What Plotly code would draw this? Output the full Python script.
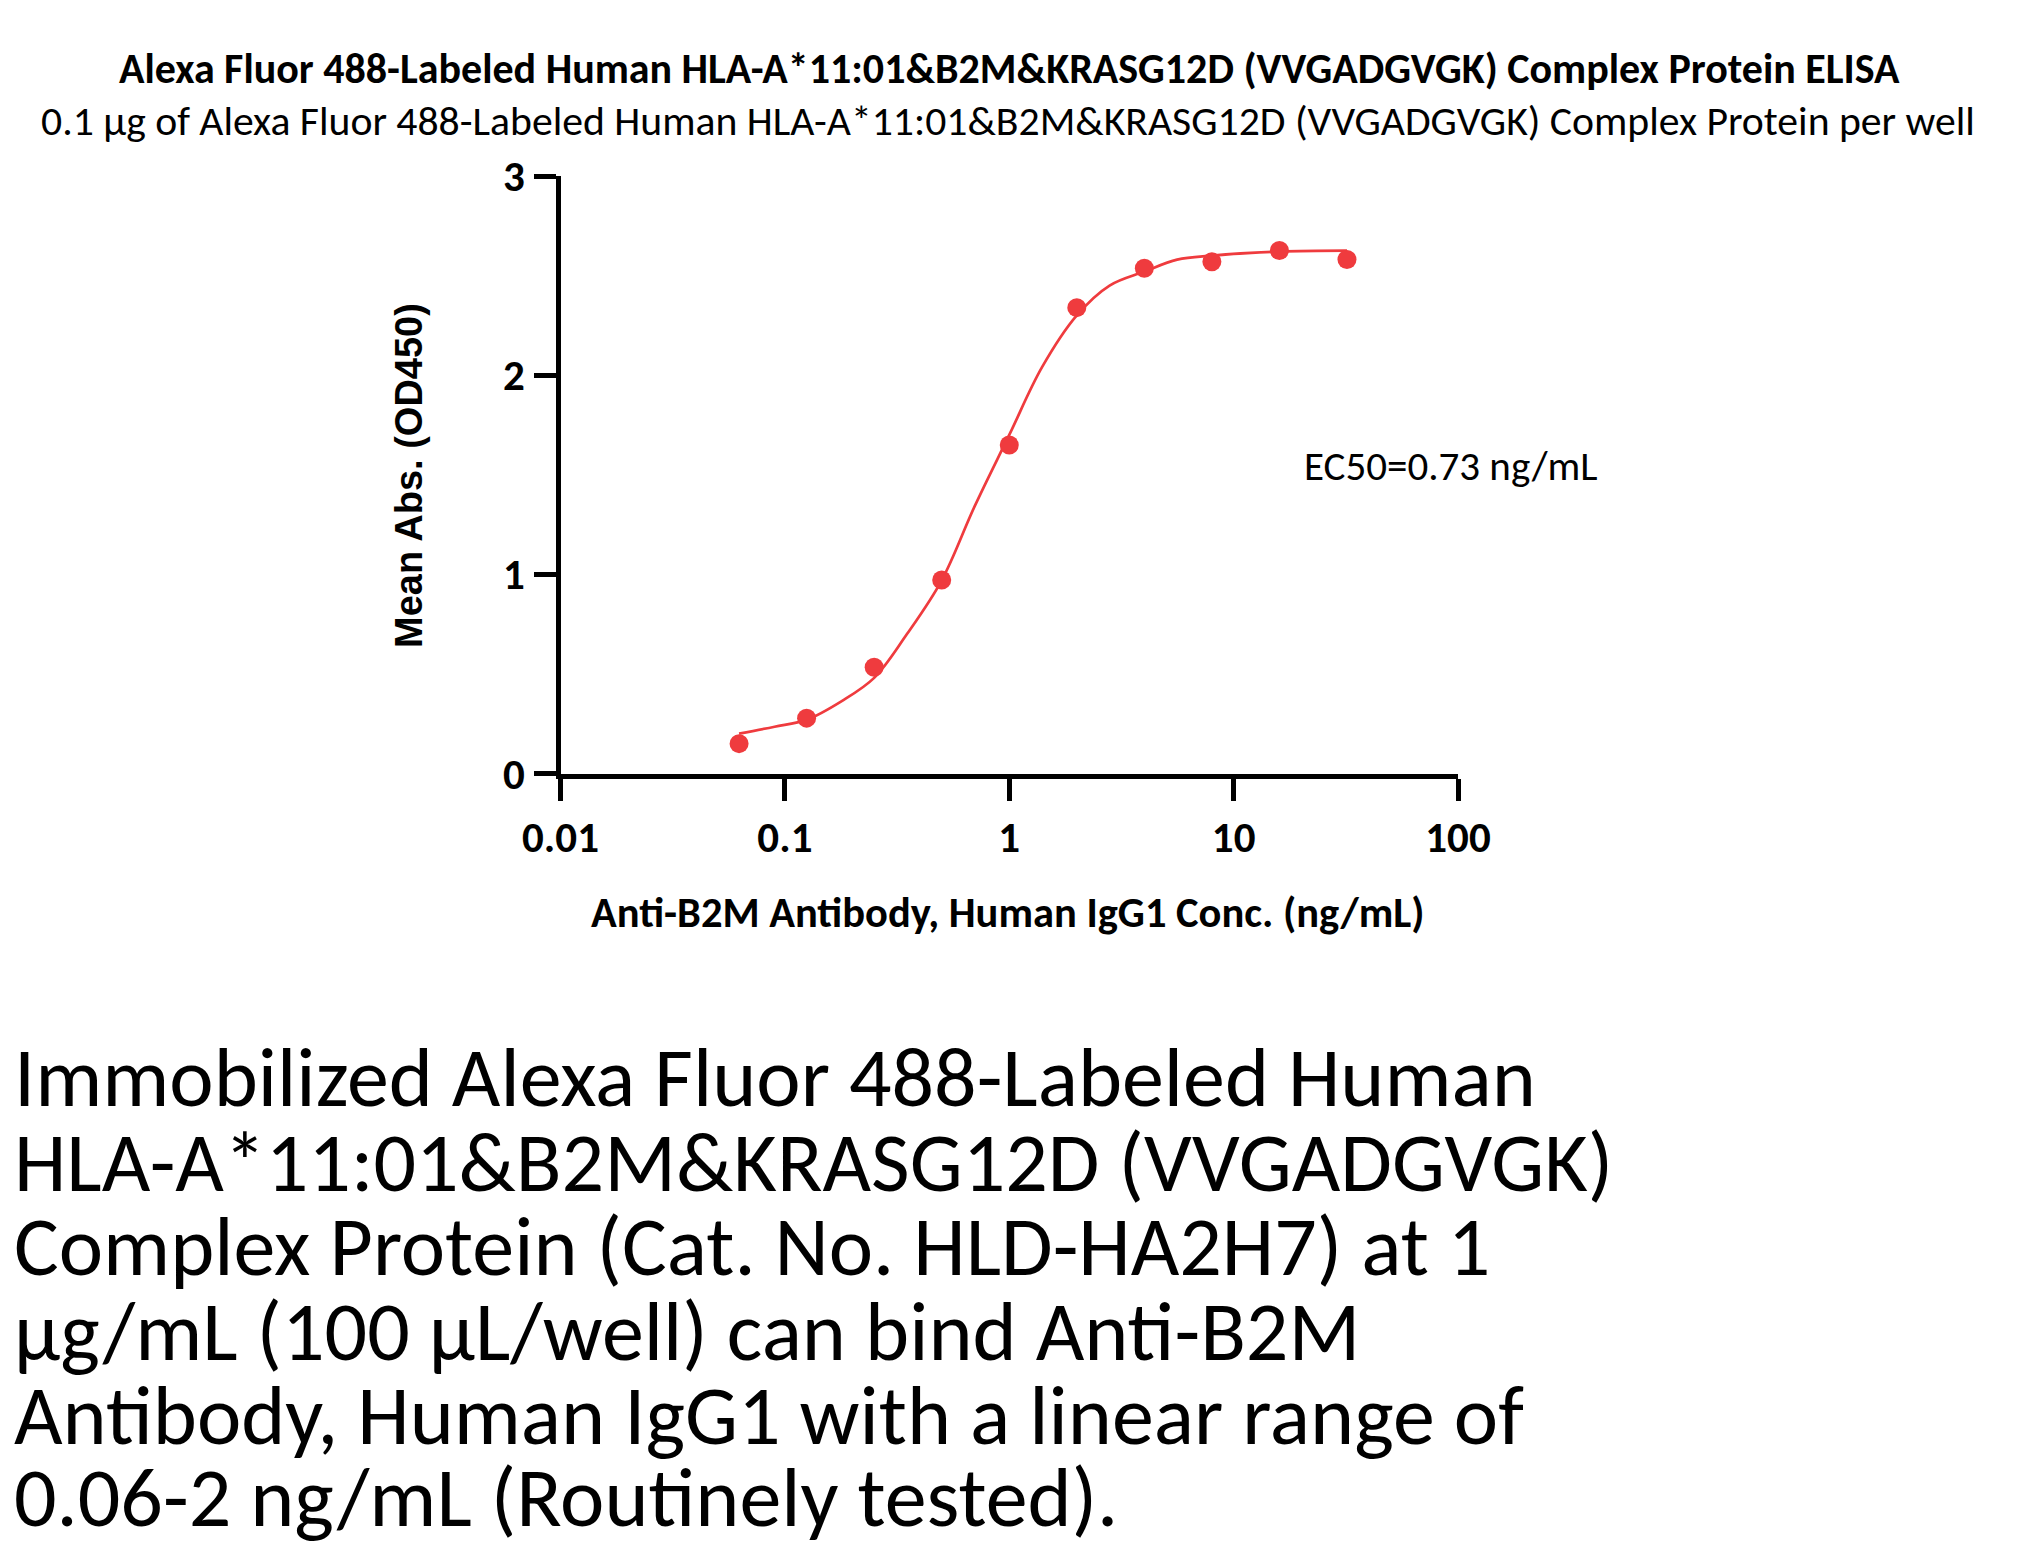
import plotly.graph_objects as go

# ---- data ----
conc = [0.0625, 0.125, 0.25, 0.5, 1, 2, 4, 8, 16, 32]
od450 = [0.15, 0.278, 0.533, 0.972, 1.649, 2.339, 2.537, 2.569, 2.626, 2.581]

# fitted curve
curve_x = [0.0625, 0.09, 0.125, 0.18, 0.25, 0.35, 0.5, 0.7, 1, 1.4, 2, 2.8, 4, 5.6, 8, 16, 32]
curve_y = [0.20, 0.235, 0.27, 0.365, 0.48, 0.70, 0.97, 1.34, 1.70, 2.04, 2.30, 2.45, 2.52, 2.58, 2.60, 2.62, 2.625]

x_tickvals = [0.01, 0.1, 1, 10, 100]
x_ticktext = ["0.01", "0.1", "1", "10", "100"]
y_tickvals = [0, 1, 2, 3]
y_ticktext = ["0", "1", "2", "3"]

title_main = "Alexa Fluor 488-Labeled Human HLA-A*11:01&B2M&KRASG12D (VVGADGVGK) Complex Protein ELISA"
title_sub = "0.1 µg of Alexa Fluor 488-Labeled Human HLA-A*11:01&B2M&KRASG12D (VVGADGVGK) Complex Protein per well"
x_title = "Anti-B2M Antibody, Human IgG1 Conc. (ng/mL)"
y_title = "Mean Abs. (OD450)"
ec50_text = "EC50=0.73 ng/mL"
paragraph_lines = [
    "Immobilized Alexa Fluor 488-Labeled Human",
    "HLA-A*11:01&B2M&KRASG12D (VVGADGVGK)",
    "Complex Protein (Cat. No. HLD-HA2H7) at 1",
    "µg/mL (100 µL/well) can bind Anti-B2M",
    "Antibody, Human IgG1 with a linear range of",
    "0.06-2 ng/mL (Routinely tested).",
]

W, H = 2019, 1556
OFF = 8  # page body margin
RED = "#EF3B3E"
FONT = "Carlito, Lato, sans-serif"


def px(x):
    return (x - OFF) / W


def py(y):
    return 1 - (y - OFF) / H


fig = go.Figure()
fig.add_trace(go.Scatter(x=curve_x, y=curve_y, mode="lines",
                         line=dict(color=RED, width=2.7, shape="spline"),
                         hoverinfo="skip"))
fig.add_trace(go.Scatter(x=conc, y=od450, mode="markers",
                         marker=dict(color=RED, size=19)))

LW = 5
fig.update_layout(
    width=W, height=H,
    margin=dict(l=0, r=0, t=0, b=0, pad=0, autoexpand=False),
    paper_bgcolor="white", plot_bgcolor="white",
    showlegend=False,
    xaxis=dict(type="log", range=[-2, 2],
               domain=[px(558 + LW / 2), px(1458)],
               showline=True, linewidth=LW, linecolor="black",
               ticks="outside", ticklen=22, tickwidth=LW, tickcolor="black",
               tickvals=x_tickvals, ticktext=x_ticktext, automargin=False,
               tickfont=dict(family=FONT, size=43, color="black", weight="bold"),
               showgrid=False, zeroline=False),
    yaxis=dict(range=[0, 3],
               domain=[py(776 - LW / 2), py(176)],
               showline=True, linewidth=LW, linecolor="black",
               ticks="outside", ticklen=22, tickwidth=LW, tickcolor="black",
               tickvals=y_tickvals, ticktext=y_ticktext, automargin=False,
               tickfont=dict(family=FONT, size=43, color="black", weight="bold"),
               showgrid=False, zeroline=False),
)

ann = []
ann.append(dict(text=title_main, x=px(1009), y=py(68), xref="paper", yref="paper",
                xanchor="center", yanchor="middle", showarrow=False,
                font=dict(family=FONT, size=42, color="black", weight="bold")))
ann.append(dict(text=title_sub, x=px(1008), y=py(120), xref="paper", yref="paper",
                xanchor="center", yanchor="middle", showarrow=False,
                font=dict(family=FONT, size=41.7, color="black")))
ann.append(dict(text=x_title, x=px(1007), y=py(913), xref="paper", yref="paper",
                xanchor="center", yanchor="middle", showarrow=False,
                font=dict(family=FONT, size=42.5, color="black", weight="bold")))
ann.append(dict(text=y_title, x=px(409), y=py(476), xref="paper", yref="paper",
                xanchor="center", yanchor="middle", showarrow=False, textangle=-90,
                font=dict(family="Liberation Sans, Arial, sans-serif", size=38,
                          color="black", weight="bold")))
ann.append(dict(text=ec50_text, x=px(1450), y=py(466), xref="paper", yref="paper",
                xanchor="center", yanchor="middle", showarrow=False,
                font=dict(family=FONT, size=41, color="black")))
line_centers = [1077, 1162, 1246, 1331, 1415, 1497]
for t, yc in zip(paragraph_lines, line_centers):
    ann.append(dict(text=t, x=px(12), y=py(yc), xref="paper", yref="paper",
                    xanchor="left", yanchor="middle", showarrow=False,
                    font=dict(family=FONT, size=84, color="black")))
fig.update_layout(annotations=ann)

fig.write_html("out.html")
